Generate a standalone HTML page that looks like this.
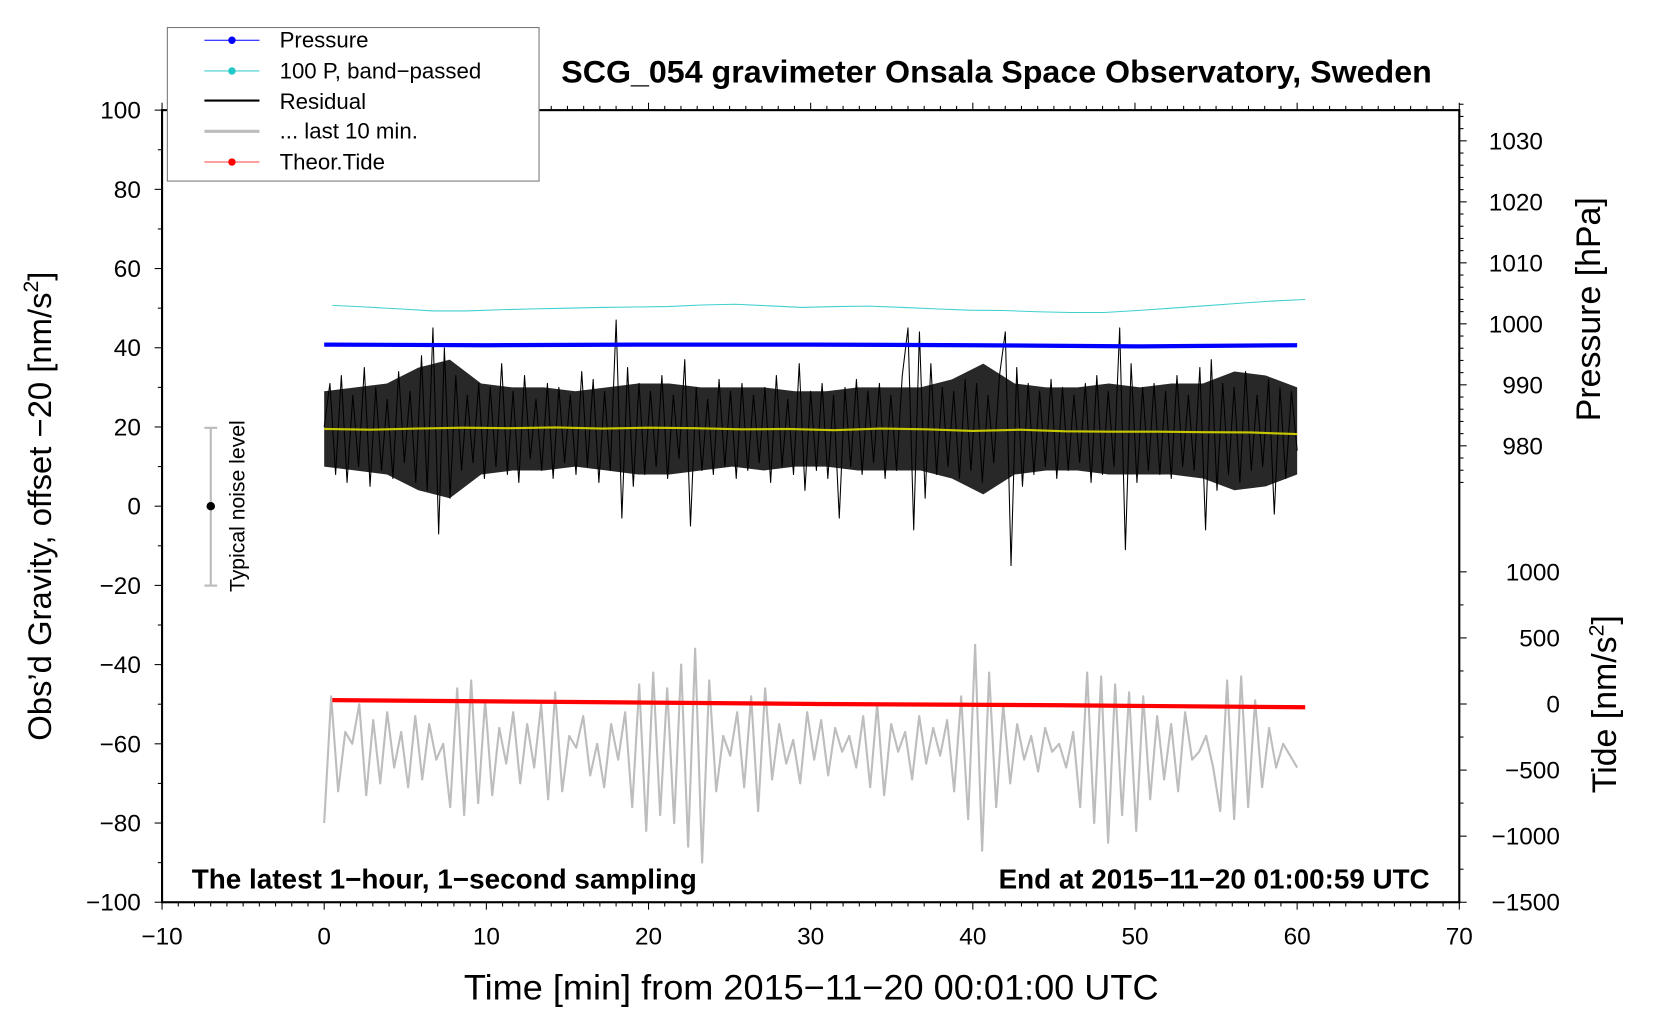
<!DOCTYPE html>
<html><head><meta charset="utf-8"><style>
html,body{margin:0;padding:0;background:#fff;width:1660px;height:1020px;overflow:hidden}
svg{display:block;font-family:"Liberation Sans",sans-serif}
</style></head><body>
<svg id="c" width="1660" height="1020" viewBox="0 0 1567.5 963.2"></svg>
<script>
const xTicks=[-10,0,10,20,30,40,50,60,70];
const yTicks=[100,80,60,40,20,0,-20,-40,-60,-80,-100];
const pTicks=[1030,1020,1010,1000,990,980];
const tTicks=[1000,500,0,-500,-1000,-1500];
const residual=[20,31,8,33,6,28,10,35,5,30,9,27,7,34,11,29,6,38,4,45,-7,40,2,33,9,28,11,31,7,30,10,36,8,29,6,33,12,27,9,31,7,30,11,28,8,34,10,32,6,29,9,47,-3,35,5,31,8,29,10,33,7,28,12,37,-5,30,9,27,8,32,10,29,7,31,9,28,11,30,6,33,10,27,8,36,4,29,9,31,7,28,-3,30,10,32,8,29,11,31,7,28,9,33,45,-6,44,2,36,8,30,10,29,7,32,9,31,6,28,11,33,44,-15,35,5,31,8,29,10,32,7,30,9,28,11,31,6,33,8,29,10,45,-11,36,6,30,9,31,8,29,7,33,10,28,9,35,-6,37,4,31,8,30,6,34,9,28,10,32,-2,30,7,29,14];
const upperEnv=[29,30,31,35,37,31,30,30,29,30,31,31,30,30,30,29,29,30,30,30,32,36,31,30,30,31,30,31,31,34,33,30];
const lowerEnv=[10,9,8,4,2,8,9,9,10,9,8,8,9,10,9,10,10,9,9,9,7,3,8,9,9,8,8,8,7,4,5,8];
const last10=[-80,-48,-72,-57,-60,-50,-73,-54,-70,-52,-66,-57,-71,-53,-69,-55,-64,-60,-76,-46,-78,-44,-75,-49,-73,-56,-65,-52,-70,-55,-66,-50,-74,-47,-72,-58,-61,-53,-68,-60,-71,-55,-64,-52,-76,-45,-82,-42,-78,-46,-80,-40,-86,-36,-90,-44,-72,-58,-63,-52,-71,-48,-77,-46,-69,-55,-65,-59,-70,-52,-64,-54,-68,-56,-62,-58,-66,-53,-71,-50,-73,-55,-62,-57,-69,-53,-65,-56,-63,-54,-72,-48,-79,-35,-87,-42,-76,-50,-70,-55,-64,-58,-67,-56,-62,-60,-66,-57,-76,-42,-80,-43,-85,-45,-78,-47,-82,-48,-74,-53,-69,-55,-72,-52,-64,-62,-58,-66,-77,-44,-79,-43,-76,-49,-71,-56,-66,-60,-63,-66];
const bandPassed=[50.7,50.3,49.8,49.3,49.3,49.6,49.8,50.0,50.2,50.3,50.4,50.8,51.0,50.6,50.2,50.4,50.5,50.2,49.8,49.5,49.4,49.1,48.9,48.9,49.4,50.0,50.6,51.2,51.8,52.2];
const smoothed=[19.5,19.3,19.6,19.8,19.7,19.9,19.6,19.8,19.7,19.4,19.5,19.2,19.6,19.4,19.0,19.3,18.9,18.8,18.8,18.7,18.6,18.2];
const pressure=[996.6,996.5,996.6,996.6,996.5,996.3,996.5];
const tide=[30,15,0,-10,-25];

const X0=153,X1=1378,Y0=104,Y1=852;
const sx=t=>X0+(t+10)*(X1-X0)/80;
const sy=v=>Y0+(100-v)*(Y1-Y0)/200;
const sp=p=>133+(1030-p)*5.76;
const st=v=>540+(1000-v)*(852-540)/2500;
const svg=document.getElementById('c');
const NS='http://www.w3.org/2000/svg';
function mk(tag,attrs,parent){const e=document.createElementNS(NS,tag);for(const k in attrs)e.setAttribute(k,attrs[k]);(parent||svg).appendChild(e);return e;}
function txt(s,attrs){const e=mk('text',attrs);e.textContent=s;return e;}
function pts(arr,t0,t1,fy){return arr.map((v,i)=>(sx(t0+i*(t1-t0)/(arr.length-1))).toFixed(1)+','+fy(v).toFixed(1));}
function series(arr,t0,t1,fy,color,w,name){
  const p=mk('polyline',{points:pts(arr,t0,t1,fy).join(' '),fill:'none',stroke:color,'stroke-width':w,'stroke-linejoin':'round'});
  
  
}
const fr=mk('rect',{x:X0,y:Y0,width:X1-X0,height:Y1-Y0,fill:'none',stroke:'#000','stroke-width':2});


for(let t=-10;t<=70;t++){const m=t%10===0;const x=sx(t);
  mk('line',{x1:x,x2:x,y1:Y1,y2:Y1+(m?7:4),stroke:'#000','stroke-width':1});
  mk('line',{x1:x,x2:x,y1:Y0,y2:Y0-(m?7:4),stroke:'#000','stroke-width':1});}
xTicks.forEach(t=>{const e=txt((t<0?'\u2212'+(-t):t),{x:sx(t),y:Y1+40,'font-size':23,'text-anchor':'middle'});
  
  });
for(let v=-100;v<=100;v+=10){const m=v%20===0;mk('line',{x1:X0,x2:X0-(m?7:4),y1:sy(v),y2:sy(v),stroke:'#000'});}
yTicks.forEach(v=>{const e=txt((v<0?'\u2212'+(-v):v),{x:X0-20,y:sy(v)+8,'font-size':23,'text-anchor':'end'});
  
  });
for(let p=1036;p>=974;p-=2){const m=p%10===0;mk('line',{x1:X1,x2:X1+(m?7:4),y1:sp(p),y2:sp(p),stroke:'#000'});}
pTicks.forEach(p=>{const e=txt(p,{x:1457,y:sp(p)+8,'font-size':23,'text-anchor':'end'});
  
  });
for(let v=1000;v>=-1500;v-=250){const m=v%500===0;mk('line',{x1:X1,x2:X1+(m?7:4),y1:st(v),y2:st(v),stroke:'#000'});}
tTicks.forEach(v=>{const e=txt((v<0?'\u2212'+(-v):v),{x:1473,y:st(v)+8,'font-size':23,'text-anchor':'end'});
  
  });
series(last10,0,60,sy,'#bdbdbd',2,'last-10-min-line');
const band=mk('polygon',{points:pts(upperEnv,0,60,sy).concat(pts(lowerEnv,0,60,sy).reverse()).join(' '),fill:'#111',stroke:'none','fill-opacity':0.9});


series(residual,0,60,sy,'#000',1,'residual-line');
series(smoothed,0,60,sy,'#c8c800',2,'smoothed-residual-line');
series(bandPassed,0.5,60.5,sy,'#40d0d0',1,'band-passed-pressure-line');
series(pressure,0,60,sp,'#0000ff',4,'pressure-line');
series(tide,0.5,60.5,st,'#ff0000',4,'tide-line');
</script>
<script>
const s2=document.getElementById('c');
s2.insertAdjacentHTML('beforeend',`
<g>
<rect x="158" y="26" width="351" height="145" fill="#fff" stroke="#777" stroke-width="1"/>
<line x1="193" x2="245" y1="38" y2="38" stroke="#0000ff"/><circle cx="219" cy="38" r="3.5" fill="#0000ff"/>
<text x="264" y="45" font-size="21">Pressure</text>
<line x1="193" x2="245" y1="67" y2="67" stroke="#40d0d0"/><circle cx="219" cy="67" r="3.5" fill="#20c8c8"/>
<text x="264" y="74" font-size="21">100 P, band−passed</text>
<line x1="193" x2="245" y1="95" y2="95" stroke="#000" stroke-width="2"/>
<text x="264" y="103" font-size="21">Residual</text>
<line x1="193" x2="245" y1="124" y2="124" stroke="#bdbdbd" stroke-width="3"/>
<text x="264" y="131" font-size="21">... last 10 min.</text>
<line x1="193" x2="245" y1="153" y2="153" stroke="#ff4040"/><circle cx="219" cy="153" r="3.5" fill="#ff0000"/>
<text x="264" y="160" font-size="21">Theor.Tide</text>
</g>
<text x="941" y="78" font-size="30" font-weight="bold" text-anchor="middle" textLength="822" lengthAdjust="spacingAndGlyphs">SCG_054 gravimeter Onsala Space Observatory, Sweden</text>
<text x="766" y="944" font-size="33" text-anchor="middle" textLength="656" lengthAdjust="spacingAndGlyphs">Time [min] from 2015−11−20 00:01:00 UTC</text>
<text transform="translate(48,478) rotate(-90)" font-size="31" text-anchor="middle">Obs’d Gravity, offset −20 [nm/s<tspan dy="-12" font-size="20">2</tspan><tspan dy="12">]</tspan></text>
<text transform="translate(1511,292) rotate(-90)" font-size="32" text-anchor="middle">Pressure [hPa]</text>
<text transform="translate(1526,665) rotate(-90)" font-size="32" text-anchor="middle">Tide [nm/s<tspan dy="-12" font-size="20">2</tspan><tspan dy="12">]</tspan></text>
<text x="181" y="839" font-size="26" font-weight="bold" textLength="477" lengthAdjust="spacingAndGlyphs">The latest 1−hour, 1−second sampling</text>
<text x="943" y="839" font-size="26" font-weight="bold" textLength="407" lengthAdjust="spacingAndGlyphs">End at 2015−11−20 01:00:59 UTC</text>
<g>
<line x1="199" x2="199" y1="404" y2="553" stroke="#bbb" stroke-width="2"/>
<line x1="193" x2="205" y1="404" y2="404" stroke="#bbb" stroke-width="2"/>
<line x1="193" x2="205" y1="553" y2="553" stroke="#bbb" stroke-width="2"/>
<circle cx="199" cy="478" r="4" fill="#000"/>
<text transform="translate(231,478) rotate(-90)" font-size="20" text-anchor="middle">Typical noise level</text>
</g>`);
</script>
</body></html>
